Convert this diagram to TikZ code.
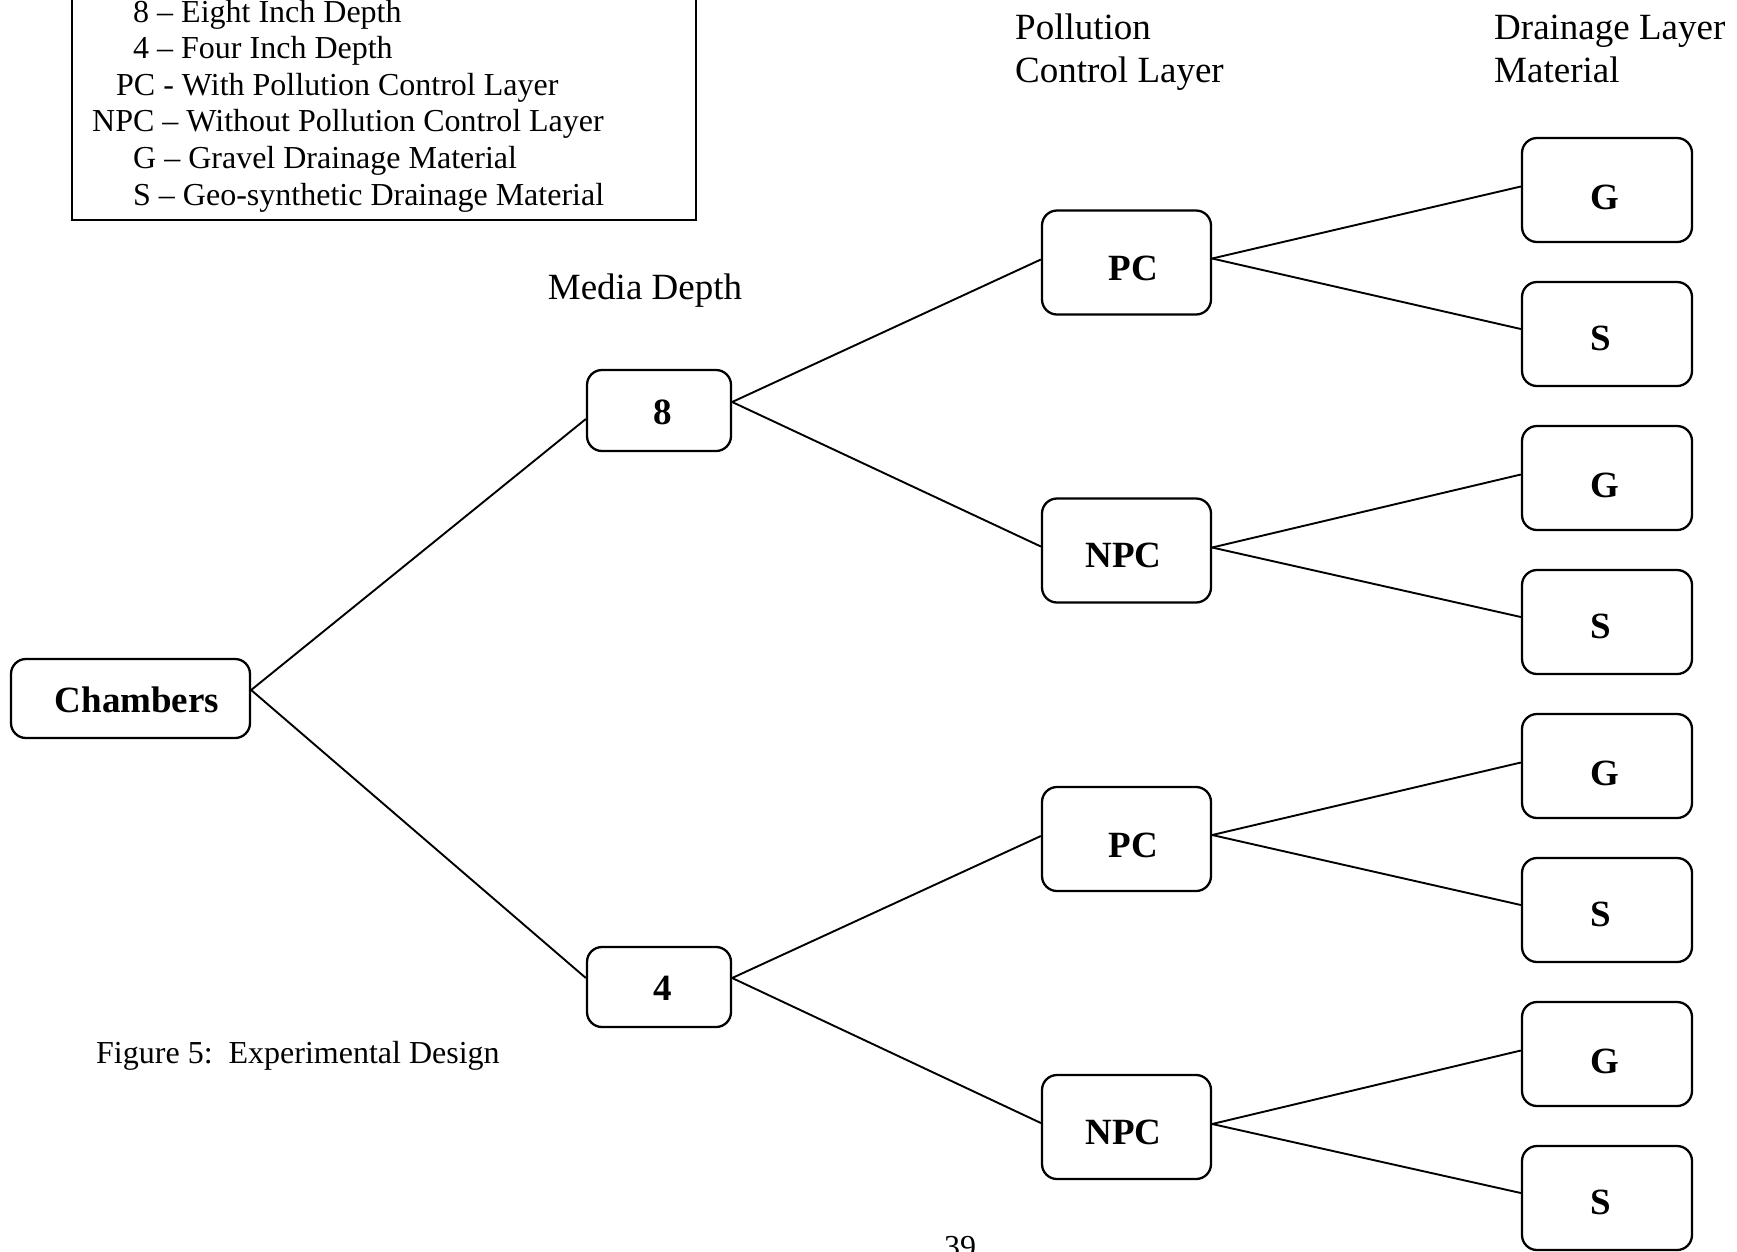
\documentclass[tikz,border=0pt]{standalone}
\usepackage{fontspec}
\setmainfont{Liberation Serif}
\begin{document}
\begin{tikzpicture}[x=1pt,y=-1pt,
  box/.style={draw,line width=2.3pt,rounded corners=15pt,inner sep=0pt,
    text depth=0pt,font=\fontsize{37}{43}\selectfont\bfseries},
  conn/.style={line width=1.9pt},
  small/.style={font=\fontsize{32}{36.6}\selectfont,inner sep=0pt},
  head/.style={font=\fontsize{37}{43}\selectfont,inner sep=0pt,align=left}]
\useasboundingbox (0,0) rectangle (1737,1251);
% legend
\draw[line width=1.6pt] (72,-10) -- (72,220) -- (696,220) -- (696,-10);
\node[small,anchor=base west] (l1) at (133,22) {8 – Eight Inch Depth};
\node[small,anchor=base west] (l2) at (133,58.6) {4 – Four Inch Depth};
\node[small,anchor=base west] (l3) at (116,95.2) {PC - With Pollution Control Layer};
\node[small,anchor=base west] (l4) at (92,131.8) {NPC – Without Pollution Control Layer};
\node[small,anchor=base west] (l5) at (133,168.4) {G – Gravel Drainage Material};
\node[small,anchor=base west] (l6) at (133,205) {S – Geo-synthetic Drainage Material};
% headings
\node[head,anchor=base] (hmd) at (645,299) {Media Depth};
\node[head,anchor=base west] (hpc1) at (1015,39) {Pollution};
\node[head,anchor=base west] (hpc2) at (1015,82) {Control Layer};
\node[head,anchor=base west] (hdl1) at (1494,39) {Drainage Layer};
\node[head,anchor=base west] (hdl2) at (1494,82) {Material};
\node[small,anchor=base west] (cap) at (96,1063) {Figure 5:\ \ Experimental Design};
\node[small,anchor=base west] (pg) at (944,1257) {39};
% nodes
\node[box,minimum width=239pt,minimum height=79pt,text height=27pt] (ch) at (130.5,698.5) {\hspace{13pt}Chambers};
\node[box,minimum width=144pt,minimum height=81pt,text height=28pt] (d8) at (659,410.5) {\hspace{8pt}8};
\node[box,minimum width=144pt,minimum height=80pt,text height=27pt] (d4) at (659,987) {\hspace{8pt}4};
\node[box,minimum width=169pt,minimum height=104pt,text height=36pt] (pc1) at (1126.5,262.5) {\hspace{14pt}PC};
\node[box,minimum width=169pt,minimum height=104pt,text height=34pt] (npc1) at (1126.5,550.5) {\hspace{-6pt}NPC};
\node[box,minimum width=169pt,minimum height=104pt,text height=36pt] (pc2) at (1126.5,839) {\hspace{14pt}PC};
\node[box,minimum width=169pt,minimum height=104pt,text height=34pt] (npc2) at (1126.5,1127) {\hspace{-6pt}NPC};
\foreach \n/\y in {g1/190,g2/478,g3/766,g4/1054}
  \node[box,minimum width=170pt,minimum height=104pt,text height=39pt] (\n) at (1607,\y) {\hspace{-5pt}G};
\foreach \n/\y in {s1/334,s2/622,s3/910,s4/1198}
  \node[box,minimum width=170pt,minimum height=104pt,text height=32pt] (\n) at (1607,\y) {\hspace{-13pt}S};
% connectors
\draw[conn] ([yshift=8.5pt]ch.east) -- ([yshift=-8.5pt]d8.west);
\draw[conn] ([yshift=8.5pt]ch.east) -- ([yshift=9pt]d4.west);
\draw[conn] ([yshift=8.5pt]d8.east) -- ([yshift=3pt]pc1.west);
\draw[conn] ([yshift=8.5pt]d8.east) -- ([yshift=4pt]npc1.west);
\draw[conn] ([yshift=9pt]d4.east) -- ([yshift=3pt]pc2.west);
\draw[conn] ([yshift=9pt]d4.east) -- ([yshift=4pt]npc2.west);
\draw[conn] ([yshift=4pt]pc1.east) -- ([yshift=3.5pt]g1.west);
\draw[conn] ([yshift=4pt]pc1.east) -- ([yshift=5pt]s1.west);
\draw[conn] ([yshift=3pt]npc1.east) -- ([yshift=3.5pt]g2.west);
\draw[conn] ([yshift=3pt]npc1.east) -- ([yshift=5pt]s2.west);
\draw[conn] ([yshift=4pt]pc2.east) -- ([yshift=3.5pt]g3.west);
\draw[conn] ([yshift=4pt]pc2.east) -- ([yshift=5pt]s3.west);
\draw[conn] ([yshift=3pt]npc2.east) -- ([yshift=3.5pt]g4.west);
\draw[conn] ([yshift=3pt]npc2.east) -- ([yshift=5pt]s4.west);
\end{tikzpicture}
\end{document}
